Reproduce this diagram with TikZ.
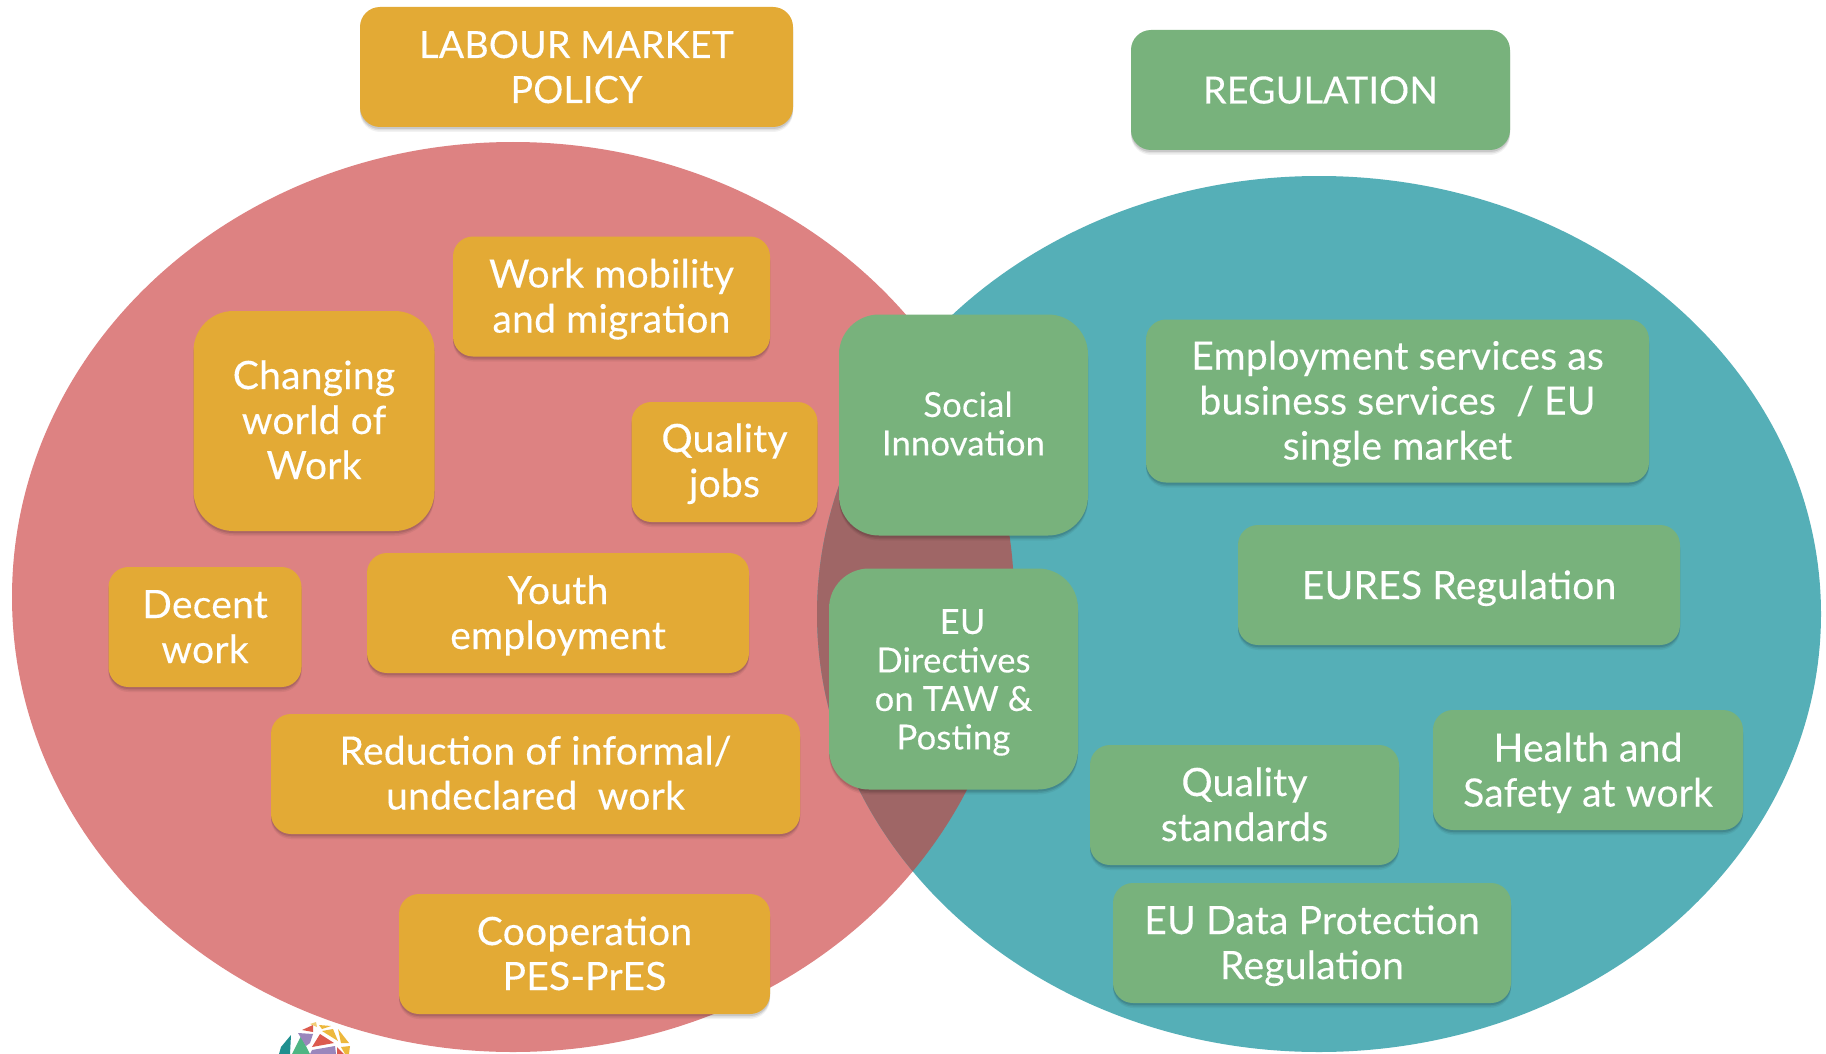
\documentclass[tikz,border=0pt]{standalone}
\usepackage{fontspec}
\setmainfont[FakeBold=0.25,LetterSpace=0.6]{Lato}
\usetikzlibrary{shadows}
\definecolor{pinkc}{HTML}{DD8282}
\definecolor{tealc}{HTML}{55AFB7}
\definecolor{overc}{HTML}{9F6666}
\definecolor{orangec}{HTML}{E3AA35}
\definecolor{greenc}{HTML}{78B27C}
\definecolor{logored}{HTML}{DC5A4E}
\definecolor{logoviolet}{HTML}{9A86BC}
\definecolor{logoteal}{HTML}{1F8F8F}
\definecolor{logogreen}{HTML}{4FB583}
\definecolor{logoyellow}{HTML}{EDB83C}
\newcommand{\shiftdown}[2]{\raisebox{-#1}[\dimexpr\height+#1\relax][\dimexpr\depth+#1\relax]{\begin{tabular}{@{}c@{}}#2\end{tabular}}}
\tikzset{
  softshadow/.style={
    general shadow={shadow xshift=0pt,shadow yshift=-5pt,fill=black,opacity=.05},
    general shadow={shadow xshift=0pt,shadow yshift=-3.5pt,fill=black,opacity=.08},
    general shadow={shadow xshift=0pt,shadow yshift=-2pt,fill=black,opacity=.10}},
  basebox/.style={softshadow,rounded corners=20pt,text=white,inner sep=0pt,
    font=\fontsize{39}{45}\selectfont,anchor=center},
  orangebox/.style={basebox,fill=orangec},
  greenbox/.style={basebox,fill=greenc},
  smalltext/.style={font=\fontsize{34.5}{38.5}\selectfont},
  captext/.style={font=\fontsize{37.5}{45}\selectfont},
  bigcorner/.style={rounded corners=40pt},
  logotri/.style={draw=none}
}
\begin{document}
\begin{tikzpicture}[x=1pt,y=-1pt]
\useasboundingbox (0,0) rectangle (1826,1054);
\fill[white] (0,0) rectangle (1826,1054);
% logo
\begin{scope}
\clip (0,0) rectangle (1826,1054);
\fill[logotri,fill=logoteal] (281,1047)--(291,1035)--(290,1054)--(279,1054)--cycle;
\fill[logotri,fill=logogreen] (292,1054)--(301,1036)--(310,1054)--cycle;
\fill[logotri,fill=logoviolet] (298,1033)--(313,1034)--(310,1043)--(306,1046)--cycle;
\fill[logotri,fill=logored] (302,1030)--(313,1025)--(313,1032)--cycle;
\fill[logotri,fill=logored] (312,1047)--(320,1034)--(334,1043)--cycle;
\fill[logotri,fill=logoviolet] (310,1054)--(312,1050)--(335,1046)--(336,1054)--cycle;
\fill[logotri,fill=logoyellow] (322,1031)--(333,1029)--(338,1041)--cycle;
\fill[logotri,fill=logoyellow] (319,1025)--(331,1026)--(322,1029)--cycle;
\fill[logotri,fill=logoyellow] (338,1029)--(349,1043)--(341,1043)--cycle;
\fill[logotri,fill=logoyellow] (341,1047)--(350,1046)--(349,1054)--(345,1054)--cycle;
\fill[logotri,fill=logored] (337,1047)--(344,1054)--(337,1054)--cycle;
\fill[logotri,fill=logoyellow!70] (310,1024)--(316,1022)--(317,1027)--cycle;
\end{scope}
% venn
\fill[pinkc] (513,597) ellipse [x radius=501,y radius=455];
\fill[tealc] (1319,614) ellipse [x radius=502,y radius=438];
\begin{scope}
\clip (513,597) ellipse [x radius=501,y radius=455];
\fill[overc] (1319,614) ellipse [x radius=502,y radius=438];
\end{scope}
% headers
\node[orangebox,captext,minimum width=433pt,minimum height=120pt] (labour) at (576.5,67) {\shiftdown{4.5pt}{LABOUR MARKET\\POLICY}};
\node[greenbox,captext,minimum width=379pt,minimum height=120pt] (regulation) at (1320.5,90) {\shiftdown{4.5pt}{REGULATION}};
% left
\node[orangebox,minimum width=317pt,minimum height=120pt] (mobility) at (611.5,296.5) {\shiftdown{4.5pt}{Work mobility\\and migration}};
\node[orangebox,bigcorner,minimum width=241pt,minimum height=220pt] (changing) at (314,421) {\shiftdown{4pt}{Changing\\world of\\Work}};
\node[orangebox,minimum width=186pt,minimum height=120pt] (jobs) at (724.5,462) {\shiftdown{3.5pt}{Quality\\jobs}};
\node[orangebox,minimum width=193pt,minimum height=120pt] (decent) at (205,627) {\shiftdown{4.5pt}{Decent\\work}};
\node[orangebox,minimum width=382pt,minimum height=120pt] (youth) at (558,613) {\shiftdown{4.5pt}{Youth\\employment}};
\node[orangebox,minimum width=529pt,minimum height=120pt] (reduction) at (535.5,774) {\shiftdown{4pt}{Reduction of informal/\\undeclared\ \ work}};
\node[orangebox,minimum width=371pt,minimum height=120pt] (cooperation) at (584.5,954) {\shiftdown{4.5pt}{Cooperation\\PES-PrES}};
% middle
\node[greenbox,bigcorner,smalltext,minimum width=249pt,minimum height=221pt] (social) at (963.5,425) {\shiftdown{3.5pt}{\ Social\\Innovation}};
\node[greenbox,bigcorner,smalltext,minimum width=249pt,minimum height=221pt] (directives) at (953.5,679) {\shiftdown{5pt}{\ \ EU\\Directives\\on TAW \&\\Posting}};
% right
\node[greenbox,minimum width=503pt,minimum height=163pt] (employment) at (1397.5,401) {\shiftdown{4.5pt}{Employment services as\\business services\ \ / EU\\single market}};
\node[greenbox,minimum width=442pt,minimum height=120pt] (eures) at (1459,585) {\shiftdown{5pt}{EURES Regulation}};
\node[greenbox,minimum width=309pt,minimum height=120pt] (standards) at (1244.5,805) {\shiftdown{4.5pt}{Quality\\standards}};
\node[greenbox,minimum width=310pt,minimum height=120pt] (health) at (1588,770) {\shiftdown{5pt}{Health and\\Safety at work}};
\node[greenbox,minimum width=398pt,minimum height=120pt] (data) at (1312,943) {\shiftdown{4.5pt}{EU Data Protection\\Regulation}};
\end{tikzpicture}
\end{document}
